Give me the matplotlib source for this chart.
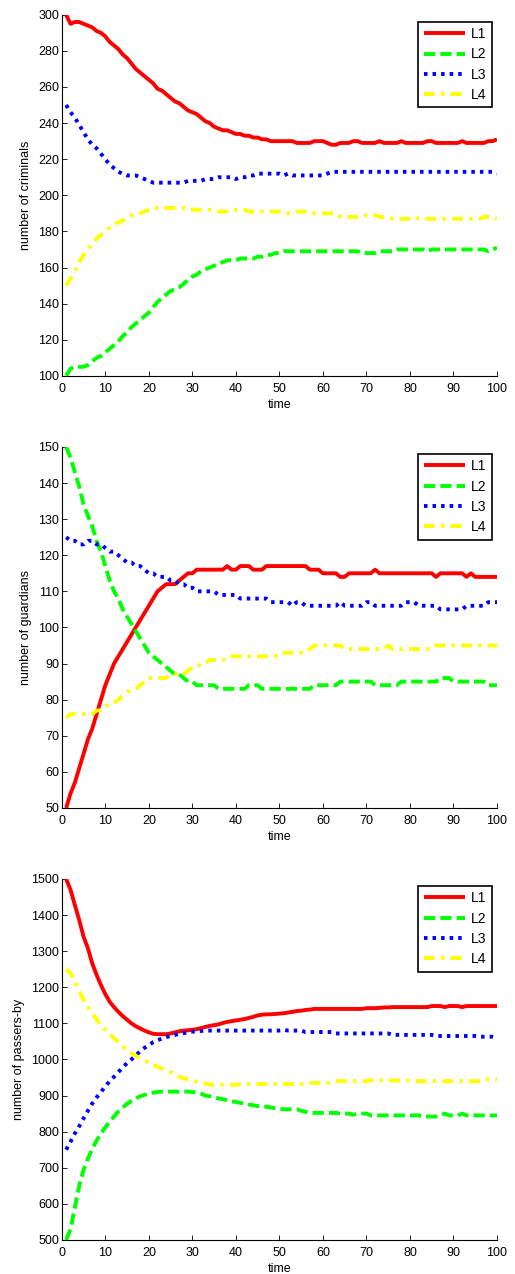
import matplotlib
matplotlib.use("Agg")
import matplotlib.pyplot as plt
import numpy as np

plt.rcParams['font.family'] = ['Liberation Sans', 'DejaVu Sans']

time = list(range(1, 101))

# ---- criminals ----
crim_L1 = [300, 295, 296, 296, 295, 294, 293, 291, 290, 288,
           285, 283, 281, 278, 276, 273, 270, 268, 266, 264,
           262, 259, 258, 256, 254, 252, 251, 249, 247, 246,
           245, 243, 241, 240, 238, 237, 236, 236, 235, 234,
           234, 233, 233, 232, 232, 231, 231, 230, 230, 230,
           230, 230, 230, 229, 229, 229, 229, 230, 230, 230,
           229, 228, 228, 229, 229, 229, 230, 230, 229, 229,
           229, 229, 230, 229, 229, 229, 229, 230, 229, 229,
           229, 229, 229, 230, 230, 229, 229, 229, 229, 229,
           229, 230, 229, 229, 229, 229, 229, 230, 230, 231]
crim_L2 = [100, 104, 105, 105, 105, 106, 108, 110, 111, 113,
           115, 117, 119, 122, 124, 127, 129, 131, 133, 135,
           138, 141, 143, 145, 147, 148, 149, 151, 153, 155,
           156, 158, 159, 160, 161, 162, 163, 164, 164, 164,
           165, 165, 165, 165, 166, 166, 167, 167, 168, 168,
           169, 169, 169, 169, 169, 169, 169, 169, 169, 169,
           169, 169, 169, 169, 169, 169, 169, 169, 168, 168,
           168, 168, 169, 169, 169, 169, 170, 170, 170, 170,
           170, 170, 170, 169, 170, 170, 170, 170, 170, 170,
           170, 170, 170, 170, 170, 170, 170, 169, 170, 171]
crim_L3 = [250, 246, 243, 239, 235, 231, 228, 226, 223, 220,
           217, 215, 213, 212, 211, 211, 211, 210, 209, 208,
           207, 207, 207, 207, 207, 207, 207, 207, 208, 208,
           208, 208, 209, 209, 209, 210, 210, 210, 210, 209,
           210, 210, 211, 211, 212, 212, 212, 212, 212, 212,
           211, 212, 211, 211, 211, 211, 211, 211, 211, 211,
           212, 213, 213, 213, 213, 213, 213, 213, 213, 213,
           213, 213, 213, 213, 213, 213, 213, 213, 213, 213,
           213, 213, 213, 213, 213, 213, 213, 213, 213, 213,
           213, 213, 213, 213, 213, 213, 213, 213, 213, 212]
crim_L4 = [150, 154, 158, 163, 167, 170, 173, 176, 178, 180,
           182, 184, 185, 186, 188, 189, 189, 190, 191, 192,
           193, 193, 193, 193, 193, 193, 193, 193, 192, 192,
           192, 192, 192, 192, 192, 191, 191, 191, 192, 192,
           192, 192, 191, 191, 191, 191, 191, 191, 191, 191,
           191, 190, 191, 191, 191, 191, 191, 190, 190, 190,
           190, 190, 190, 188, 188, 188, 188, 188, 188, 189,
           189, 189, 188, 188, 188, 187, 187, 187, 187, 187,
           188, 187, 187, 187, 187, 187, 187, 187, 187, 187,
           187, 187, 187, 187, 187, 187, 188, 188, 188, 187]

# ---- guardians ----
guard_L1 = [50, 54, 57, 61, 65, 69, 72, 76, 80, 84,
            87, 90, 92, 94, 96, 98, 100, 102, 104, 106,
            108, 110, 111, 112, 112, 112, 113, 114, 115, 115,
            116, 116, 116, 116, 116, 116, 116, 117, 116, 116,
            117, 117, 117, 116, 116, 116, 117, 117, 117, 117,
            117, 117, 117, 117, 117, 117, 116, 116, 116, 115,
            115, 115, 115, 114, 114, 115, 115, 115, 115, 115,
            115, 116, 115, 115, 115, 115, 115, 115, 115, 115,
            115, 115, 115, 115, 115, 114, 115, 115, 115, 115,
            115, 115, 114, 115, 114, 114, 114, 114, 114, 114]
guard_L2 = [150, 147, 143, 139, 134, 131, 128, 124, 121, 117,
            113, 110, 108, 105, 103, 101, 99, 97, 95, 93,
            92, 91, 90, 89, 88, 87, 87, 86, 85, 85,
            84, 84, 84, 84, 84, 83, 83, 83, 83, 83,
            83, 83, 84, 84, 84, 83, 83, 83, 83, 83,
            83, 83, 83, 83, 83, 83, 83, 84, 84, 84,
            84, 84, 84, 85, 85, 85, 85, 85, 85, 85,
            85, 84, 84, 84, 84, 84, 84, 85, 85, 85,
            85, 85, 85, 85, 85, 85, 86, 86, 86, 85,
            85, 85, 85, 85, 85, 85, 85, 84, 84, 84]
guard_L3 = [125, 124, 124, 123, 123, 124, 124, 123, 123, 122,
            121, 121, 120, 119, 118, 118, 117, 117, 116, 115,
            115, 114, 114, 114, 113, 113, 112, 112, 111, 111,
            110, 110, 110, 110, 110, 109, 109, 109, 109, 109,
            108, 108, 108, 108, 108, 108, 108, 107, 107, 107,
            107, 107, 106, 107, 107, 106, 106, 106, 106, 106,
            106, 106, 106, 107, 106, 106, 106, 106, 106, 107,
            107, 106, 106, 106, 106, 106, 106, 106, 107, 107,
            107, 106, 106, 106, 106, 106, 105, 105, 105, 105,
            105, 105, 106, 106, 106, 106, 106, 107, 107, 107]
guard_L4 = [75, 76, 76, 76, 76, 76, 76, 77, 77, 78,
            79, 79, 80, 81, 82, 83, 83, 84, 85, 86,
            86, 86, 86, 86, 87, 87, 87, 87, 88, 89,
            89, 90, 90, 91, 91, 91, 91, 92, 92, 92,
            92, 92, 92, 92, 92, 92, 92, 92, 92, 93,
            93, 93, 93, 93, 93, 93, 94, 95, 95, 95,
            95, 95, 95, 95, 94, 94, 94, 94, 94, 94,
            94, 94, 94, 94, 95, 94, 94, 94, 94, 94,
            94, 94, 94, 94, 94, 95, 95, 95, 95, 95,
            95, 95, 95, 95, 95, 95, 95, 95, 95, 95]

# ---- passers-by ----
pass_L1 = [1500, 1470, 1428, 1386, 1340, 1308, 1266, 1234, 1206, 1181,
           1160, 1145, 1132, 1120, 1110, 1100, 1092, 1086, 1080, 1075,
           1071, 1070, 1070, 1070, 1072, 1075, 1078, 1080, 1081, 1082,
           1084, 1087, 1090, 1093, 1095, 1097, 1101, 1104, 1106, 1108,
           1110, 1112, 1115, 1118, 1122, 1124, 1125, 1125, 1126, 1127,
           1128, 1130, 1132, 1134, 1135, 1137, 1138, 1140, 1140, 1140,
           1140, 1140, 1140, 1140, 1140, 1140, 1140, 1140, 1140, 1142,
           1142, 1142, 1143, 1144, 1144, 1145, 1145, 1145, 1145, 1145,
           1145, 1145, 1145, 1145, 1148, 1148, 1148, 1145, 1148, 1148,
           1148, 1145, 1148, 1148, 1148, 1148, 1148, 1148, 1148, 1148]
pass_L2 = [500, 530, 590, 650, 695, 725, 752, 775, 795, 812,
           828, 842, 856, 867, 877, 885, 892, 898, 902, 905,
           908, 910, 911, 911, 911, 911, 910, 911, 911, 910,
           908, 905, 900, 898, 895, 892, 890, 887, 884, 882,
           880, 878, 875, 873, 871, 870, 869, 867, 865, 863,
           862, 862, 862, 862, 858, 855, 852, 852, 852, 852,
           852, 852, 852, 850, 850, 850, 847, 850, 850, 850,
           845, 845, 845, 845, 845, 845, 845, 845, 845, 845,
           845, 845, 842, 842, 842, 842, 845, 850, 845, 845,
           845, 850, 845, 845, 845, 845, 845, 845, 845, 845]
pass_L3 = [750, 772, 795, 815, 837, 858, 878, 895, 910, 925,
           940, 952, 965, 978, 990, 1000, 1012, 1022, 1032, 1040,
           1048, 1053, 1058, 1062, 1065, 1068, 1071, 1073, 1075, 1077,
           1078, 1079, 1080, 1080, 1080, 1080, 1080, 1080, 1080, 1080,
           1080, 1080, 1080, 1080, 1080, 1080, 1080, 1080, 1080, 1080,
           1082, 1080, 1080, 1080, 1080, 1076, 1076, 1076, 1076, 1076,
           1076, 1076, 1072, 1072, 1072, 1072, 1072, 1072, 1072, 1072,
           1072, 1072, 1072, 1072, 1072, 1068, 1068, 1068, 1068, 1068,
           1068, 1068, 1068, 1068, 1068, 1065, 1065, 1065, 1065, 1065,
           1065, 1065, 1065, 1065, 1065, 1063, 1063, 1063, 1063, 1060]
pass_L4 = [1250, 1240, 1215, 1190, 1165, 1145, 1128, 1110, 1095, 1082,
           1070, 1059, 1048, 1036, 1025, 1017, 1010, 1004, 998, 990,
           985, 980, 975, 970, 965, 958, 952, 948, 945, 942,
           938, 935, 933, 930, 930, 930, 930, 930, 930, 930,
           932, 932, 932, 932, 932, 932, 932, 932, 932, 932,
           932, 932, 932, 932, 932, 935, 935, 935, 935, 935,
           935, 935, 940, 940, 940, 940, 940, 940, 940, 940,
           942, 942, 942, 942, 942, 942, 942, 942, 942, 942,
           940, 940, 940, 940, 940, 940, 940, 940, 940, 940,
           940, 940, 940, 940, 940, 940, 945, 945, 945, 945]

labels = ['L1', 'L2', 'L3', 'L4']
colors = ['#ff0000', '#00ff00', '#0000ff', '#ffff00']
styles = ['-', (0, (2.9, 1.3)), (0, (0.9, 1.3)), (0, (2.8, 1.6, 0.85, 1.6))]

panels = [
    (crim_L1, crim_L2, crim_L3, crim_L4, 'number of criminals', (100, 300), np.arange(100, 301, 20)),
    (guard_L1, guard_L2, guard_L3, guard_L4, 'number of guardians', (50, 150), np.arange(50, 151, 10)),
    (pass_L1, pass_L2, pass_L3, pass_L4, 'number of passers-by', (500, 1500), np.arange(500, 1501, 100)),
]

fig = plt.figure(figsize=(5.15, 12.74), dpi=100)
bottoms = [0.705, 0.3658, 0.0267]
for (s1, s2, s3, s4, ylab, ylim, yt), b in zip(panels, bottoms):
    ax = fig.add_axes([0.120, b, 0.845, 0.2834])
    for s, lab, c, ls in zip([s1, s2, s3, s4], labels, colors, styles):
        ax.plot(time, s, color=c, linestyle=ls, lw=2.8, label=lab,
                dash_capstyle='butt', solid_capstyle='butt')
    ax.set_xlim(0, 100)
    ax.set_ylim(*ylim)
    ax.set_xticks(np.arange(0, 101, 10))
    ax.set_yticks(yt)
    ax.spines['top'].set_visible(False)
    ax.spines['right'].set_visible(False)
    ax.tick_params(direction='in', length=3.5, labelsize=9, width=0.6, pad=2)
    ax.tick_params(axis='x', pad=5)
    for sp in ('left', 'bottom'):
        ax.spines[sp].set_linewidth(0.8)
    ax.set_xlabel('time', fontsize=9, labelpad=3)
    ax.set_ylabel(ylab, fontsize=9, labelpad=4)
    leg = ax.legend(loc='upper right', fontsize=10, handlelength=3.0, fancybox=False,
                    edgecolor='black', framealpha=1, borderaxespad=0.0,
                    labelspacing=0.45, handletextpad=0.4, borderpad=0.4,
                    bbox_to_anchor=(0.9885, 0.981))
    leg.get_frame().set_linewidth(1.2)

fig.savefig('out.png', dpi=100)
